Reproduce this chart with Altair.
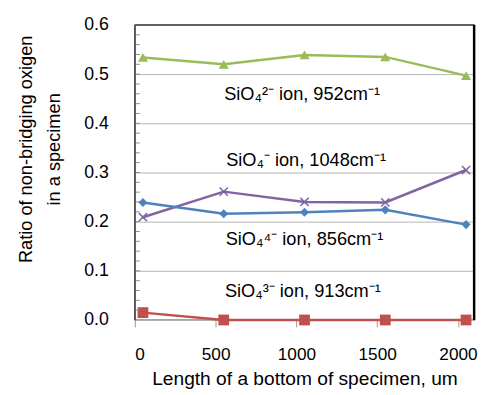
import altair as alt
import pandas as pd

# ---- data ----
lengths = [50, 550, 1050, 1550, 2050]
series_names = ["SiO4(2-) 952", "SiO4(-) 1048", "SiO4(4-) 856", "SiO4(3-) 913"]
green_vals = [0.534, 0.520, 0.539, 0.535, 0.497]
purple_vals = [0.209, 0.261, 0.240, 0.239, 0.305]
blue_vals = [0.239, 0.216, 0.219, 0.224, 0.194]
red_vals = [0.015, 0.0, 0.0, 0.0, 0.0]

colors = ["#9BBB59", "#8064A2", "#4F81BD", "#C0504D"]

label_text = [
    "SiO₄²⁻ ion, 952cm⁻¹",
    "SiO₄⁻ ion, 1048cm⁻¹",
    "SiO₄⁴⁻ ion, 856cm⁻¹",
    "SiO₄³⁻ ion, 913cm⁻¹",
]
label_x = [1035, 1060, 1050, 1040]
label_y = [0.46, 0.325, 0.164, 0.058]

minor_ticks = [round(i * 0.02, 2) for i in range(1, 30)]
x_ticks = [0, 500, 1000, 1500, 2000]
y_ticks = [0.0, 0.1, 0.2, 0.3, 0.4, 0.5, 0.6]

FONT = "Liberation Sans"

W, H = 345, 300

xscale = alt.Scale(domain=[0, 2100], nice=False, zero=False)
yscale = alt.Scale(domain=[0, 0.6], nice=False)

x_axis = alt.Axis(
    title="Length of a bottom of specimen, um",
    values=x_ticks,
    format="d",
    grid=False,
    tickSize=7,
    tickColor="#9a9a9a",
    domain=False,
    labelPadding=19,
    labelFont=FONT,
    labelFontSize=17.5,
    labelColor="#000000",
    titleFont=FONT,
    titleFontSize=19.5,
    titleFontWeight="normal",
    titleColor="#000000",
    titlePadding=7,
)
y_axis = alt.Axis(
    title=["Ratio of non-bridging oxigen", "in a specimen"],
    values=y_ticks,
    format=".1f",
    grid=True,
    gridColor="#b5b5b5",
    gridWidth=1,
    ticks=False,
    domain=False,
    labelPadding=27,
    labelFont=FONT,
    labelFontSize=18,
    labelColor="#000000",
    titleFont=FONT,
    titleFontSize=18.5,
    titleFontWeight="normal",
    titleColor="#000000",
    titleLineHeight=28,
    titleBaseline="middle",
    titleX=-111,
    titleY=126,
    titleAngle=270,
)

def X():
    return alt.X("x:Q", scale=xscale, axis=x_axis)

def Y():
    return alt.Y("y:Q", scale=yscale, axis=y_axis)

all_vals = [green_vals, purple_vals, blue_vals, red_vals]
shapes = ["triangle-up", "M-1,-1L1,1M-1,1L1,-1", "diamond", "square"]
sizes = [105, 70, 85, 120]

layers = []
one = pd.DataFrame({"v": [0]})

for vals, name, col, shp, sz in zip(all_vals, series_names, colors, shapes, sizes):
    df = pd.DataFrame({"x": lengths, "y": vals, "s": name})
    base = alt.Chart(df).encode(x=X(), y=Y())
    layers.append(base.mark_line(color=col, strokeWidth=2.5))
    if shp.startswith("M"):
        layers.append(base.mark_point(shape=shp, size=sz, color=col, filled=False, strokeWidth=1.5, opacity=1))
    else:
        layers.append(base.mark_point(shape=shp, size=sz, color=col, filled=True, opacity=1))

text_df = pd.DataFrame({"x": label_x, "y": label_y, "t": label_text})
layers.append(
    alt.Chart(text_df).mark_text(font=FONT, fontSize=18.5, color="#000000").encode(
        x=alt.X("x:Q", scale=xscale), y=alt.Y("y:Q", scale=yscale), text="t:N",
    )
)

# minor ticks on y axis (inside)
minor_df = pd.DataFrame({"y": minor_ticks})
layers.append(
    alt.Chart(minor_df).mark_rule(color="#8a8a8a", strokeWidth=1).encode(
        y=alt.Y("y:Q", scale=yscale), x=alt.value(0), x2=alt.value(5),
    )
)

# frame (drawn on top)
layers.append(alt.Chart(one).mark_rule(color="#4a4a4a", strokeWidth=1.5).encode(
    x=alt.value(0), x2=alt.value(W), y=alt.value(0)))
layers.append(alt.Chart(one).mark_rule(color="#4a4a4a", strokeWidth=1.5).encode(
    x=alt.value(0), y=alt.value(0), y2=alt.value(H)))
layers.append(
    alt.Chart(one).mark_rule(color="#000000", strokeWidth=2.5).encode(
        x=alt.value(W), y=alt.value(0), y2=alt.value(H)
    )
)

chart = alt.layer(*layers).properties(
    width=W,
    height=H,
    background="white",
    autosize="none",
    padding={"left": 129, "top": 14, "right": 8, "bottom": 71},
).configure_view(
    stroke="#4a4a4a", strokeWidth=1.3
)

chart.save("out.html", embed_options={"renderer": "svg", "actions": False})
